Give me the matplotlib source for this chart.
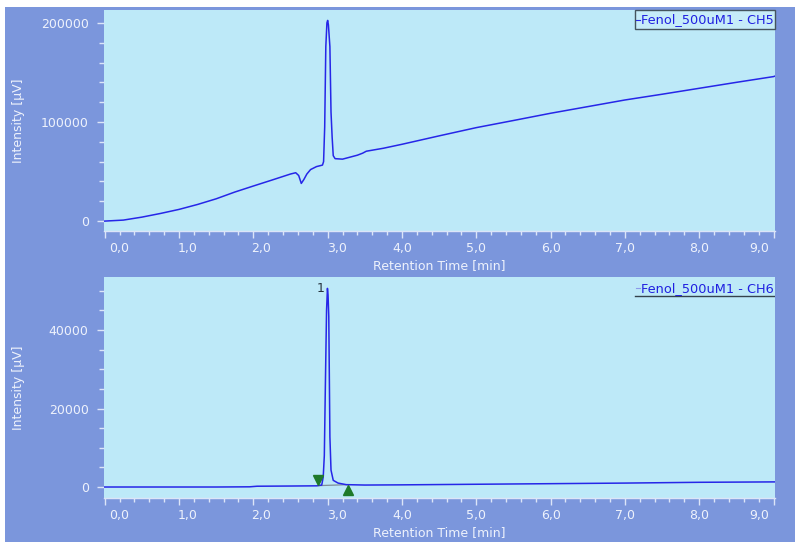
import numpy as np
import matplotlib
matplotlib.use("Agg")
import matplotlib.pyplot as plt
from matplotlib.patches import Rectangle
from matplotlib.lines import Line2D
from matplotlib.ticker import MultipleLocator, FixedLocator, FixedFormatter
from matplotlib.transforms import ScaledTranslation

# ---- data -------------------------------------------------------------
# Channel 5 trace (retention time in min, intensity in uV)
t_ch5 = [0.00, 0.25, 0.50, 0.75, 1.00, 1.25, 1.50, 1.75, 2.00, 2.25, 2.50,
         2.57, 2.61, 2.645, 2.68, 2.72, 2.77, 2.85, 2.93, 2.945, 2.96, 2.975,
         2.99, 3.00, 3.01, 3.03, 3.045, 3.06, 3.075, 3.10, 3.20, 3.30, 3.40,
         3.47, 3.52, 3.75, 4.00, 4.50, 5.00, 5.50, 6.00, 6.50, 7.00, 7.50,
         8.00, 8.50, 9.00, 9.02]
v_ch5 = [0, 1000, 4000, 7700, 11800, 16800, 22500, 29300, 35400, 41400, 47500,
         48800, 46000, 38000, 42000, 47500, 52000, 55000, 56500, 60000, 95000, 176000,
         200000, 202500, 198000, 176000, 110000, 85000, 66000, 63000, 62500, 64500, 66500,
         68500, 70500, 73500, 77500, 86000, 94300, 101500, 108800, 115500, 122200, 128000,
         134000, 140000, 145800, 146300]

# Channel 6 trace
t_ch6 = [0.00, 0.50, 1.00, 1.50, 1.95, 2.05, 2.50, 2.85, 2.92, 2.94, 2.955,
         2.97, 2.985, 2.997, 3.005, 3.015, 3.03, 3.045, 3.075, 3.14, 3.25,
         3.50, 4.00, 5.00, 6.00, 7.00, 8.00, 9.00, 9.02]
v_ch6 = [0, 0, 0, 0, 50, 200, 250, 300, 500, 2500, 8000,
         27000, 45000, 50600, 49000, 43400, 12800, 4300, 1700, 1000, 600,
         500, 550, 700, 850, 1000, 1200, 1300, 1300]

# Integration baseline of peak 1 on channel 6 (start, end)
base_t = [2.87, 3.28]
base_v = [350, 600]
peak_names = ["1"]

x_ticks = [0, 1, 2, 3, 4, 5, 6, 7, 8, 9]
x_labels = ["0,0", "1,0", "2,0", "3,0", "4,0", "5,0", "6,0", "7,0", "8,0", "9,0"]
ch5_yticks = [0, 100000, 200000]
ch6_yticks = [0, 20000, 40000]
ch5_name = "Fenol_500uM1 - CH5"
ch6_name = "Fenol_500uM1 - CH6"

# ---- style ------------------------------------------------------------
FRAME = "#7B96DC"
PLOT_BG = "#BDE9F8"
TEXT_C = "#EEF2FC"
TICK_C = "#DCE5F8"
TRACE = "#2626E8"
plt.rcParams["font.family"] = ["DejaVu Sans"]

W, H = 795, 542
fig = plt.figure(figsize=(W / 100, H / 100), dpi=100)
fig.patch.set_facecolor("white")
fig.patches.append(Rectangle((5 / W, 0), 1 - 5 / W, 1 - 7 / H,
                             transform=fig.transFigure, facecolor=FRAME,
                             edgecolor="none", zorder=-10))

left, right = 104 / W, 775 / W
ax_w = right - left
ax_h = 221 / H
ax1 = fig.add_axes([left, 1 - 231 / H, ax_w, ax_h])
ax2 = fig.add_axes([left, 1 - 498 / H, ax_w, ax_h])

# horizontal nudges of the time labels, in pixels
label_shift = {0: 14, 1: 9, 2: 8, 3: 9, 9: -14}


def style_axes(ax, yticks, ylim, yminor):
    ax.set_facecolor(PLOT_BG)
    for s in ("top", "right", "left"):
        ax.spines[s].set_visible(False)
    ax.spines["bottom"].set_color(TICK_C)
    ax.spines["bottom"].set_linewidth(1.0)
    ax.set_xlim(-0.01, 9.02)
    ax.set_ylim(*ylim)
    ax.xaxis.set_major_locator(FixedLocator(x_ticks))
    ax.xaxis.set_major_formatter(FixedFormatter(x_labels))
    ax.xaxis.set_minor_locator(MultipleLocator(0.2))
    ax.yaxis.set_major_locator(FixedLocator(yticks))
    ax.yaxis.set_major_formatter(FixedFormatter([str(v) for v in yticks]))
    ax.yaxis.set_minor_locator(MultipleLocator(yminor))
    ax.tick_params(axis="x", which="major", length=5, width=1, color=TICK_C,
                   labelcolor=TEXT_C, labelsize=9, pad=3)
    ax.tick_params(axis="x", which="minor", length=3, width=1, color=TICK_C)
    ax.tick_params(axis="y", which="major", length=5, width=1, color=TICK_C,
                   labelcolor=TEXT_C, labelsize=9, pad=6)
    ax.tick_params(axis="y", which="minor", length=3.5, width=1, color=TICK_C)
    ax.set_xlabel("Retention Time [min]", color=TEXT_C, fontsize=9)
    ax.xaxis.set_label_coords(0.5, -0.154)
    ax.xaxis.label.set_va("center")
    ax.set_ylabel("Intensity [µV]", color=TEXT_C, fontsize=9)
    ax.yaxis.set_label_coords(-0.1267, 0.5)
    ax.yaxis.label.set_va("center")
    for i, tk in enumerate(ax.xaxis.get_major_ticks()):
        dx = label_shift.get(i, 0)
        if dx:
            tk.label1.set_transform(tk.label1.get_transform() +
                                    ScaledTranslation(dx / 100, 0, fig.dpi_scale_trans))


style_axes(ax1, ch5_yticks, (-10000, 213000), 20000)
style_axes(ax2, ch6_yticks, (-2800, 53500), 5000)

ax1.plot(t_ch5, v_ch5, color=TRACE, lw=1.1, solid_joinstyle="round")
ax2.plot(t_ch6, v_ch6, color=TRACE, lw=1.1, solid_joinstyle="round")

# integration baseline and start/end markers
ax2.plot(base_t, base_v, color="#7E8E96", lw=0.9, zorder=1)
up = ax2.transData + ScaledTranslation(0, 4 / 72, fig.dpi_scale_trans)
down = ax2.transData + ScaledTranslation(0, -4 / 72, fig.dpi_scale_trans)
ax2.plot([base_t[0]], [base_v[0]], marker="v", ms=7, color="#1F7A2A",
         transform=up, zorder=4)
ax2.plot([base_t[1]], [base_v[1]], marker="^", ms=7, color="#1F7A2A",
         transform=down, zorder=4)

# peak number
ip = int(np.argmax(v_ch6))
ax2.annotate(peak_names[0], (t_ch6[ip], v_ch6[ip]), xytext=(-2, 0),
             textcoords="offset points", ha="right", va="center",
             fontsize=9, color="#26343E")

# channel name boxes
x0 = (635 - 104) / 671
ax1.add_patch(Rectangle((x0, 0.914), 1 - x0, 0.086, transform=ax1.transAxes,
                        facecolor="#C6ECF9", edgecolor="#44545E", lw=1.0,
                        clip_on=False, zorder=5))
ax1.add_line(Line2D([x0 + 0.002, x0 + 0.008], [0.957, 0.957], transform=ax1.transAxes,
                    color=TRACE, lw=0.8, zorder=6))
ax1.text(0.998, 0.955, ch5_name, transform=ax1.transAxes, ha="right", va="center",
         fontsize=9.3, color="#2020E0", zorder=6)

ax2.add_line(Line2D([x0, 1.0], [0.914, 0.914], transform=ax2.transAxes,
                    color="#34424C", lw=1.0, zorder=6))
ax2.add_line(Line2D([x0 + 0.002, x0 + 0.008], [0.95, 0.95], transform=ax2.transAxes,
                    color="#8A9AEA", lw=0.8, zorder=6))
ax2.text(0.998, 0.948, ch6_name, transform=ax2.transAxes, ha="right", va="center",
         fontsize=9.3, color="#2020E0", zorder=6)

fig.savefig("out.png", dpi=100, facecolor=fig.get_facecolor())
